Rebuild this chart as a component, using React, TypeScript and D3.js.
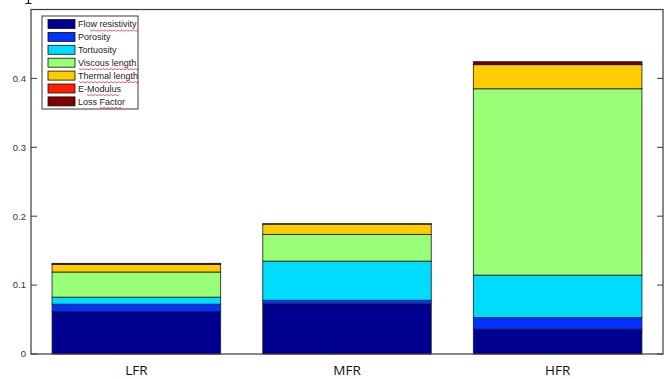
import React from "react";
import * as d3 from "d3";

const categories = ["LFR", "MFR", "HFR"];
const seriesNames = [
  "Flow resistivity",
  "Porosity",
  "Tortuosity",
  "Viscous length",
  "Thermal length",
  "E-Modulus",
  "Loss Factor",
];
const flowResistivity = [0.0615, 0.0727, 0.036];
const porosity = [0.0108, 0.0053, 0.0168];
const tortuosity = [0.0102, 0.0568, 0.0617];
const viscousLength = [0.0365, 0.0387, 0.2705];
const thermalLength = [0.011, 0.0151, 0.035];
const eModulus = [0.0003, 0.0001, 0.0005];
const lossFactor = [0.0012, 0.0001, 0.0038];
const yTicks = [0, 0.1, 0.2, 0.3, 0.4];
const colors = ["#000090", "#0033ff", "#00dcff", "#99ff77", "#ffcc00", "#ff2000", "#800000"];

// spell-check squiggles under legend words: [row, startOffset, length]
const squiggles = [
  [0, 12, 49],
  [3, 1, 60],
  [4, 1, 60],
  [5, 9, 33],
  [6, 22, 23],
];

const zigzag = (x0: number, y0: number, len: number) => {
  let p = `M${x0},${y0}`;
  for (let i = 1; i * 2 <= len; i++) p += ` L${x0 + i * 2},${y0 + (i % 2 ? 1.2 : 0)}`;
  return p;
};

const App = () => {
  const width = 671;
  const height = 379;
  const margin = { top: 9.5, right: 8, bottom: 25, left: 31 };

  const allSeries = [flowResistivity, porosity, tortuosity, viscousLength, thermalLength, eModulus, lossFactor];
  const rows = categories.map((c, i) => {
    const row: any = { cat: c };
    seriesNames.forEach((s, j) => (row[s] = allSeries[j][i]));
    return row;
  });
  const stacked = d3.stack().keys(seriesNames)(rows);

  const x = d3
    .scaleBand()
    .domain(categories)
    .range([margin.left, width - margin.right])
    .paddingInner(0.2)
    .paddingOuter(0.1);
  const y = d3.scaleLinear().domain([0, 0.5]).range([height - margin.bottom, margin.top]);

  const left = margin.left;
  const right = width - margin.right;
  const top = margin.top;
  const bottom = height - margin.bottom;
  const axisColor = "#3a3a3a";

  const legendX = 42;
  const legendY = 16;
  const rowH = 12.9;

  return (
    <svg width={width} height={height} style={{ position: "absolute", left: 0, top: 0, background: "#fff" }}>
      {/* cropped glyph fragment at the top edge of the source image */}
      <path d="M28.5,0 V3.5 M25.5,3.5 H31.5" stroke="#111" strokeWidth={1.2} fill="none" />

      {stacked.map((layer, j) =>
        layer.map((d, i) => (
          <rect
            key={j + "-" + i}
            x={x(categories[i])}
            y={y(d[1])}
            width={x.bandwidth()}
            height={Math.max(0, y(d[0]) - y(d[1]))}
            fill={colors[j]}
            stroke="#1a1a1a"
            strokeOpacity={0.8}
            strokeWidth={1}
          />
        ))
      )}

      <rect x={left} y={top} width={right - left} height={bottom - top} fill="none" stroke={axisColor} strokeWidth={1.2} />

      {yTicks.map((t) => (
        <g key={t}>
          <line x1={left} x2={left + 6} y1={y(t)} y2={y(t)} stroke={axisColor} />
          <line x1={right - 6} x2={right} y1={y(t)} y2={y(t)} stroke={axisColor} />
          <text
            x={left - 5}
            y={y(t)}
            dy="0.35em"
            textAnchor="end"
            fontFamily="Liberation Sans, Arial, sans-serif"
            fontSize={9.5}
            fill="#333"
          >
            {t === 0 ? "0" : t.toFixed(1)}
          </text>
        </g>
      ))}

      {categories.map((c) => (
        <text
          key={c}
          x={(x(c) as number) + x.bandwidth() / 2}
          y={370}
          dy="0.35em"
          textAnchor="middle"
          fontFamily="Open Sans, Liberation Sans, sans-serif"
          fontSize={13.5}
          fill="#111"
        >
          {c}
        </text>
      ))}

      <g>
        <rect x={legendX} y={legendY} width={96} height={93} fill="#fff" stroke={axisColor} strokeWidth={1} />
        {seriesNames.map((s, j) => (
          <g key={s} transform={`translate(${legendX + 6},${legendY + 3.5 + j * rowH})`}>
            <rect x={0} y={0} width={27} height={9} fill={colors[j]} stroke="#111" strokeWidth={0.8} />
            <text x={30} y={4.5} dy="0.35em" fontFamily="Liberation Sans, Arial, sans-serif" fontSize={9} fill="#222">
              {s}
            </text>
          </g>
        ))}
        {squiggles.map(([r, off, len]) => (
          <path
            key={r}
            d={zigzag(legendX + 36 + off, legendY + 3.5 + r * rowH + 10.5, len)}
            fill="none"
            stroke="#e02020"
            strokeWidth={0.7}
          />
        ))}
      </g>
    </svg>
  );
};

export default App;
